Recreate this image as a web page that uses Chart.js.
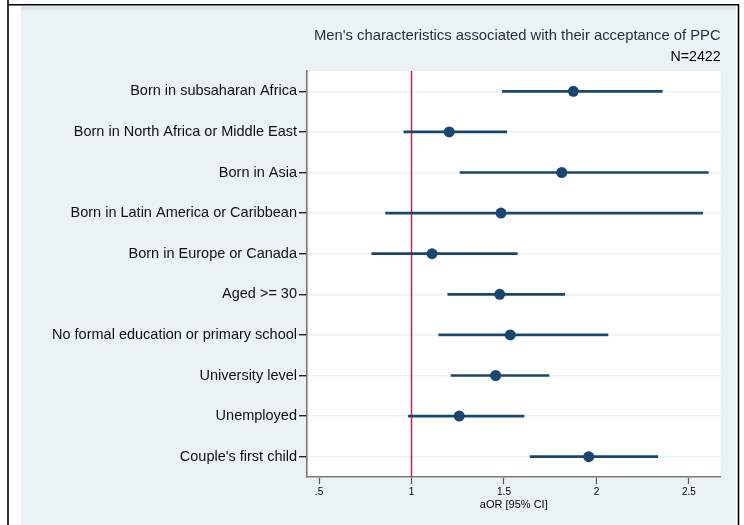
<!DOCTYPE html>
<html>
<head>
<meta charset="utf-8">
<script src="https://cdn.jsdelivr.net/npm/chart.js@4"></script>
<style>
html,body{margin:0;padding:0;background:#fff;}
#wrap{width:744px;height:525px;position:relative;}
</style>
</head>
<body>
<div id="wrap"><canvas id="c" width="744" height="525"></canvas></div>
<script>
const categories = [
  "Born in subsaharan Africa",
  "Born in North Africa or Middle East",
  "Born in Asia",
  "Born in Latin America or Caribbean",
  "Born in Europe or Canada",
  "Aged >= 30",
  "No formal education or primary school",
  "University level",
  "Unemployed",
  "Couple's first child"
];
const aOR   = [1.875, 1.204, 1.812, 1.484, 1.111, 1.477, 1.534, 1.455, 1.258, 1.958];
const ciLow = [1.491, 0.959, 1.262, 0.860, 0.785, 1.196, 1.147, 1.214, 0.983, 1.641];
const ciHigh= [2.356, 1.515, 2.605, 2.574, 1.572, 1.828, 2.062, 1.743, 1.608, 2.331];
const xTickValues = [0.5, 1, 1.5, 2, 2.5];
const xTickLabels = [".5", "1", "1.5", "2", "2.5"];
const refLineValue = 1;
const titleText = "Men's characteristics associated with their acceptance of PPC";
const subtitleText = "N=2422";
const xAxisTitle = "aOR [95% CI]";

const NAVY = '#1a476f';
const FONT = "'Liberation Sans', Arial, sans-serif";

const bgPlugin = {
  id: 'bg',
  beforeDraw(chart) {
    const ctx = chart.ctx, a = chart.chartArea;
    ctx.save();
    ctx.fillStyle = '#ffffff';
    ctx.fillRect(0, 0, chart.width, chart.height);
    ctx.fillStyle = '#eaf2f3';
    ctx.fillRect(21, 6, 715, 525);
    ctx.fillStyle = '#dfe4e6';
    ctx.fillRect(21, 6, 715, 4);
    ctx.fillStyle = '#ffffff';
    ctx.fillRect(a.left, a.top, a.right - a.left, a.bottom - a.top);
    ctx.strokeStyle = '#000';
    ctx.lineWidth = 1.6;
    ctx.beginPath();
    ctx.moveTo(8, 0); ctx.lineTo(8, 525);
    ctx.moveTo(8, 4.8); ctx.lineTo(739, 4.8);
    ctx.moveTo(738.5, 4.8); ctx.lineTo(738.5, 525);
    ctx.stroke();
    ctx.restore();
  }
};

const refLinePlugin = {
  id: 'refline',
  beforeDatasetsDraw(chart) {
    const ctx = chart.ctx, a = chart.chartArea;
    const x = chart.scales.x.getPixelForValue(refLineValue);
    ctx.save();
    ctx.strokeStyle = '#cc1f4c';
    ctx.lineWidth = 1.5;
    ctx.beginPath();
    ctx.moveTo(x, a.top);
    ctx.lineTo(x, a.bottom);
    ctx.stroke();
    ctx.restore();
  }
};

new Chart(document.getElementById('c'), {
  type: 'bar',
  data: {
    labels: categories,
    datasets: [
      {
        type: 'line',
        label: 'aOR',
        indexAxis: 'y',
        data: categories.map((c, i) => ({ x: aOR[i], y: c })),
        showLine: false,
        pointRadius: 5.5,
        pointHoverRadius: 5.5,
        pointBackgroundColor: NAVY,
        pointBorderColor: NAVY,
        pointBorderWidth: 0,
        order: 0
      },
      {
        type: 'bar',
        label: '95% CI',
        indexAxis: 'y',
        data: categories.map((c, i) => [ciLow[i], ciHigh[i]]),
        backgroundColor: NAVY,
        borderWidth: 0,
        barThickness: 2,
        order: 1
      }
    ]
  },
  options: {
    indexAxis: 'y',
    responsive: false,
    animation: false,
    devicePixelRatio: 1,
    layout: { padding: { left: 0, right: 23.4, top: 0, bottom: 13 } },
    plugins: {
      legend: { display: false },
      tooltip: { enabled: false },
      title: {
        display: true,
        text: titleText,
        fullSize: false,
        align: 'end',
        color: '#1f2d3d',
        font: { family: FONT, size: 14.8, weight: 'normal', lineHeight: 1.2 },
        padding: { top: 26.6, bottom: 0 }
      },
      subtitle: {
        display: true,
        text: subtitleText,
        fullSize: false,
        align: 'end',
        color: '#000',
        font: { family: FONT, size: 14.2, weight: 'normal', lineHeight: 1.2 },
        padding: { top: 4, bottom: 5.6 }
      }
    },
    scales: {
      x: {
        type: 'linear',
        position: 'bottom',
        min: 0.435,
        max: 2.671,
        afterBuildTicks(scale) { scale.ticks = xTickValues.map(v => ({ value: v })); },
        afterFit(scale) { scale.height = 35; },
        ticks: {
          autoSkip: false,
          maxRotation: 0,
          padding: 2,
          color: '#000',
          font: { family: FONT, size: 10 },
          callback(value) {
            const i = xTickValues.indexOf(value);
            return i >= 0 ? xTickLabels[i] : '';
          }
        },
        grid: { drawOnChartArea: false, drawTicks: true, tickLength: 7, tickColor: '#555', tickWidth: 1.2 },
        border: { display: true, color: '#7a7a7a', width: 1.6 },
        title: {
          display: true,
          text: xAxisTitle,
          color: '#000',
          font: { family: FONT, size: 11 },
          padding: { top: 0, bottom: 0 }
        }
      },
      y: {
        type: 'category',
        position: 'left',
        offset: true,
        afterFit(scale) { scale.width = 307; },
        ticks: {
          autoSkip: false,
          padding: 2,
          color: '#111',
          font: { family: FONT, size: 14.5 }
        },
        grid: { offset: false, color: '#eaf2f3', lineWidth: 1.5, drawTicks: true, tickLength: 8, tickColor: '#000', tickWidth: 1.2 },
        border: { display: true, color: '#7a7a7a', width: 1.6 }
      }
    }
  },
  plugins: [bgPlugin, refLinePlugin]
});
</script>
</body>
</html>
